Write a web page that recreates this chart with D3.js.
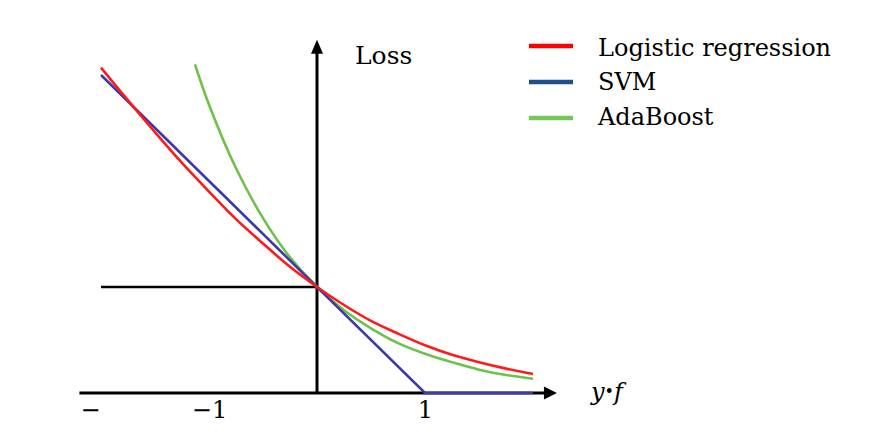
<!DOCTYPE html>
<html>
<head>
<meta charset="utf-8">
<script src="https://cdn.jsdelivr.net/npm/d3@7"></script>
<style>
  html, body { margin: 0; padding: 0; background: #fff; }
  svg { display: block; }
  text { font-family: "DejaVu Serif", "Liberation Serif", serif; fill: #000; }
</style>
</head>
<body>
<svg id="chart" width="889" height="445"></svg>
<script>
// ---- data ----
const margins = [-2, -1.75, -1.5, -1.25, -1, -0.75, -0.5, -0.25, 0, 0.25, 0.5, 0.75, 1, 1.25, 1.5, 1.75, 2];
const logisticLoss = [3.07, 2.76, 2.46, 2.17, 1.90, 1.64, 1.41, 1.19, 1.00, 0.83, 0.68, 0.56, 0.45, 0.36, 0.29, 0.23, 0.18];
const adaMargins = [-1.13, -1, -0.75, -0.5, -0.25, 0, 0.25, 0.5, 0.75, 1, 1.25, 1.5, 1.75, 2];
const adaLoss = [3.10, 2.72, 2.12, 1.65, 1.28, 1.00, 0.78, 0.61, 0.47, 0.37, 0.29, 0.22, 0.17, 0.135];
const svmMargins = [-2, 1, 2];
const svmLoss = [3, 0, 0];
const tickValues = [-2, -1, 1];
const tickLabels = ["\u2212", "\u22121", "1"];
const seriesNames = ["Logistic regression", "SVM", "AdaBoost"];

// ---- layout ----
const svg = d3.select("#chart");
const x = d3.scaleLinear().domain([-2, 2]).range([101, 533]);
const y = d3.scaleLinear().domain([0, 3]).range([393, 75]);

const curveColors = { logistic: "#ff1a1a", svm: "#3a3aaa", ada: "#6cc24a" };
const legendColors = ["#ff0000", "#1f4e8f", "#77c65a"];

// x axis (labels only, via d3.axisBottom)
const xAxis = d3.axisBottom(x)
  .tickValues(tickValues)
  .tickSize(0)
  .tickPadding(0)
  .tickFormat((d, i) => tickLabels[i]);
const gx = svg.append("g").attr("transform", `translate(0,${y(0)})`).call(xAxis);
gx.select(".domain").remove();
gx.selectAll("text")
  .attr("y", 0).attr("dy", 0)
  .attr("transform", "translate(0,25)")
  .style("font-family", '"DejaVu Serif", serif')
  .style("font-size", "24px")
  .attr("fill", "#000");
gx.selectAll(".tick").filter(d => d === -2).select("text")
  .attr("text-anchor", "end").attr("dx", -1);

// axis lines
const xAxisEnd = 2.12, xAxisStart = -2.2, yAxisTop = 3.22;
svg.append("line")
  .attr("x1", x(xAxisStart)).attr("x2", x(xAxisEnd))
  .attr("y1", y(0)).attr("y2", y(0))
  .attr("stroke", "#000").attr("stroke-width", 3);
svg.append("line")
  .attr("x1", x(0)).attr("x2", x(0))
  .attr("y1", y(0)).attr("y2", y(yAxisTop))
  .attr("stroke", "#000").attr("stroke-width", 3);
// arrowheads
const ax = x(xAxisEnd), ay = y(0);
svg.append("path")
  .attr("d", `M${ax - 2},${ay - 6.5} L${ax + 11},${ay} L${ax - 2},${ay + 6.5} Z`)
  .attr("fill", "#000");
const tx = x(0), ty = y(yAxisTop);
svg.append("path")
  .attr("d", `M${tx - 6},${ty + 2} L${tx},${ty - 12} L${tx + 6},${ty + 2} Z`)
  .attr("fill", "#000");

// reference line at loss = 1
svg.append("line")
  .attr("x1", x(-2)).attr("x2", x(0))
  .attr("y1", y(1)).attr("y2", y(1))
  .attr("stroke", "#000").attr("stroke-width", 2.5);

// curves
const smooth = d3.line().x(d => x(d[0])).y(d => y(d[1])).curve(d3.curveCatmullRom.alpha(0.5));
const straight = d3.line().x(d => x(d[0])).y(d => y(d[1]));

svg.append("path")
  .datum(adaMargins.map((m, i) => [m, adaLoss[i]]))
  .attr("d", smooth).attr("fill", "none")
  .attr("stroke", curveColors.ada).attr("stroke-width", 2.6);
svg.append("path")
  .datum(svmMargins.map((m, i) => [m, svmLoss[i]]))
  .attr("d", straight).attr("fill", "none")
  .attr("stroke", curveColors.svm).attr("stroke-width", 2.6);
svg.append("path")
  .datum(margins.map((m, i) => [m, logisticLoss[i]]))
  .attr("d", smooth).attr("fill", "none")
  .attr("stroke", curveColors.logistic).attr("stroke-width", 2.6);
// green drawn under, redraw green section near crossing is unnecessary

// axis titles
svg.append("text").attr("x", 355).attr("y", 64)
  .style("font-size", "25px").text("Loss");
const yf = svg.append("text").attr("x", 591).attr("y", 400)
  .style("font-size", "24px").style("font-style", "italic");
yf.append("tspan").text("y");
yf.append("tspan").style("font-style", "normal").style("font-size", "16px").attr("dy", -3).text("\u2022");
yf.append("tspan").attr("dy", 3).text("f");

// legend
const legend = svg.append("g");
const legendY = [46, 82, 118];
const textY = [56, 90, 125];
seriesNames.forEach((name, i) => {
  legend.append("line")
    .attr("x1", 529).attr("x2", 573)
    .attr("y1", legendY[i]).attr("y2", legendY[i])
    .attr("stroke", legendColors[i]).attr("stroke-width", 4.5);
  legend.append("text")
    .attr("x", 598).attr("y", textY[i])
    .style("font-size", "24px")
    .text(name);
});
</script>
</body>
</html>
